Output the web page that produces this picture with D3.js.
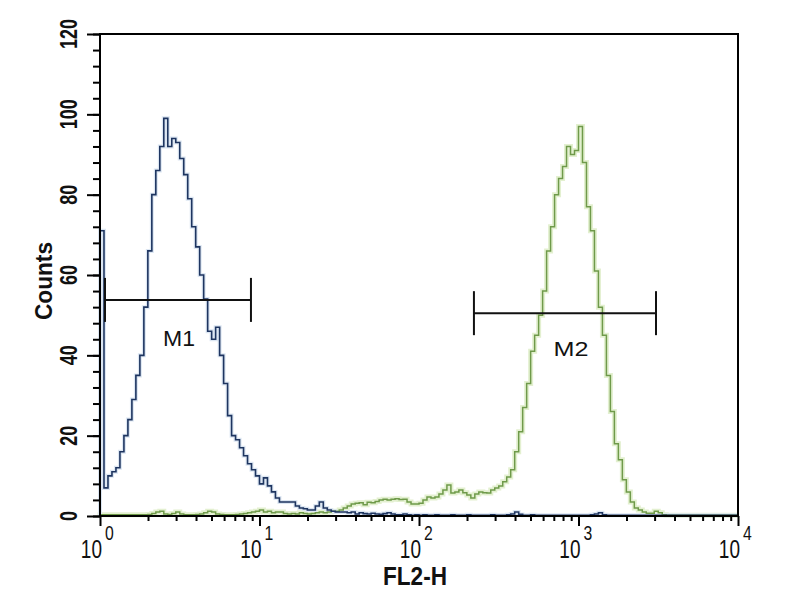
<!DOCTYPE html>
<html>
<head>
<meta charset="utf-8">
<script src="https://cdn.jsdelivr.net/npm/d3@7"></script>
<style>
  html, body { margin: 0; padding: 0; background: #fff; }
  svg { display: block; }
  text { font-family: "Liberation Sans", Arial, sans-serif; fill: #111; }
</style>
</head>
<body>
<svg id="chart" width="800" height="600"></svg>
<script>
// ---- Data ----
// Histogram channels: 160 channels spanning 4 decades (10^0 .. 10^4)
const channelCount = 160;
const decades = 4;

// Counts per channel, isotype control (blue)
const blueCounts = [
  71, 7, 10, 11, 12, 16, 20, 24, 29, 35,
  40, 52, 66, 80, 86, 92, 99, 92, 94, 93,
  89, 85, 79, 72, 67, 60, 54, 46, 44, 47,
  40, 33, 25, 20, 19, 17, 15, 13, 11.5, 10,
  8, 9.5, 7.5, 6, 4.5, 3.5, 3.5, 3.5, 3.5, 2.5,
  2, 1.8, 1.5, 1.5, 2.5, 3.5, 2, 1.5, 1.2, 1,
  1, 1, 0.8, 1, 0.5, 0.8, 0.6, 0.5, 0.7, 0.5,
  0.4, 0.6, 0.8, 0.5, 0.3, 0.3, 0.5, 0.3, 0.2, 0.3,
  0.2, 0.3, 0.2, 0.2, 0.3, 0.2, 0.2, 0.2, 0.3, 0.2,
  0.2, 0.2, 0.3, 0.2, 0.2, 0.2, 0.2, 0.2, 0.3, 0.2,
  0.2, 0.2, 0.3, 0.5, 1, 0.4, 0.2, 0.2, 0.3, 0.2,
  0.2, 0.2, 0.2, 0.2, 0.2, 0.2, 0.2, 0.2, 0.2, 0.2,
  0.2, 0.2, 0.2, 0.3, 0.5, 0.8, 0.3, 0.2, 0.2, 0.2,
  0.2, 0.2, 0.2, 0.2, 0.2, 0.2, 0.2, 0.2, 0.2, 0.2,
  0.2, 0.2, 0.2, 0.2, 0.2, 0.2, 0.2, 0.2, 0.2, 0.2,
  0.2, 0.2, 0.2, 0.2, 0.2, 0.2, 0.2, 0.2, 0.2, 0.2
];

// Counts per channel, antibody-stained sample (green)
const greenCounts = [
  0.3, 0.3, 0.3, 0.3, 0.3, 0.3, 0.3, 0.3, 0.3, 0.3,
  0.3, 0.3, 0.4, 0.6, 1, 1.2, 0.5, 0.4, 0.6, 1,
  0.5, 0.3, 0.3, 0.3, 0.4, 0.5, 0.8, 1.2, 1, 0.5,
  0.4, 0.3, 0.3, 0.3, 0.4, 0.5, 0.6, 0.8, 1, 1.2,
  1.5, 1, 1.2, 0.8, 1, 1, 0.6, 0.5, 0.6, 0.5,
  0.8, 0.6, 0.5, 0.6, 0.8, 1, 0.8, 1, 1.2, 1.2,
  1.5, 2, 2.5, 3, 3.2, 3.3, 2.8, 3.4, 3.3, 3.6,
  4, 4.2, 4, 4.2, 4.3, 4.1, 4.2, 3.5, 3, 3,
  3.2, 4, 4.7, 4.5, 4.7, 5.5, 6.5, 7.7, 5.7, 6,
  6.5, 5.8, 5.2, 4.5, 5.5, 6, 5.8, 5.7, 6.5, 7,
  7.5, 8.5, 9.7, 11.5, 16, 21, 27, 33, 41, 45,
  50, 56, 66, 72, 80, 84, 87, 92, 90, 91,
  97, 88, 77, 71, 61, 52, 45, 35, 26, 18,
  14, 9, 6, 3.5, 2, 1.5, 1, 0.7, 0.7, 1.2,
  0.8, 0.3, 0.2, 0.2, 0.2, 0.2, 0.2, 0.2, 0.2, 0.2,
  0.2, 0.2, 0.2, 0.2, 0.2, 0.2, 0.2, 0.2, 0.2, 0.2
];

// Markers (gates): [start, end] in FL2-H units and the level (counts) they sit at
const markerNames = ["M1", "M2"];
const markerStart = [1.075, 221];
const markerEnd = [8.84, 3062];
const markerLevel = [53.8, 50.5];

// Axis ticks
const yTicks = [0, 20, 40, 60, 80, 100, 120];
const yMinorStep = 4;
const xDecadeTicks = [1, 10, 100, 1000, 10000];
const xDecadeExp = ["0", "1", "2", "3", "4"];
const xTitle = "FL2-H";
const yTitle = "Counts";

// ---- Layout ----
const svg = d3.select("#chart");
const pLeft = 100, pRight = 738, pTop = 34, pBottom = 516;

const x = d3.scaleLog().domain([1, 10000]).range([pLeft, pRight]);
const y = d3.scaleLinear().domain([0, 120]).range([pBottom, pTop]);

// channel lower edges in FL2-H units
const chanVal = i => Math.pow(10, i * decades / channelCount);

function seriesPoints(counts) {
  const pts = [{ v: chanVal(0), c: 0 }];
  counts.forEach((c, i) => pts.push({ v: chanVal(i), c: c }));
  pts.push({ v: chanVal(counts.length), c: counts[counts.length - 1] });
  return pts;
}

const line = d3.line()
  .x(d => x(d.v))
  .y(d => y(d.c))
  .curve(d3.curveStepAfter);

const plot = svg.append("g");

plot.append("path")
  .attr("d", line(seriesPoints(greenCounts)))
  .attr("fill", "none")
  .attr("stroke", "#e3f0d0")
  .attr("stroke-width", 5);
plot.append("path")
  .attr("d", line(seriesPoints(blueCounts)))
  .attr("fill", "none")
  .attr("stroke", "#dce6f2")
  .attr("stroke-width", 4);
plot.append("path")
  .attr("d", line(seriesPoints(greenCounts)))
  .attr("fill", "none")
  .attr("stroke", "#6f9a4a")
  .attr("stroke-width", 1.5);
plot.append("path")
  .attr("d", line(seriesPoints(blueCounts)))
  .attr("fill", "none")
  .attr("stroke", "#1e3560")
  .attr("stroke-width", 1.6);

// ---- Frame ----
svg.append("rect")
  .attr("x", pLeft).attr("y", pTop)
  .attr("width", pRight - pLeft).attr("height", pBottom - pTop)
  .attr("fill", "none")
  .attr("stroke", "#000")
  .attr("stroke-width", 2);

// ---- Y axis ----
const yMinor = d3.range(0, 121, yMinorStep);
const yAxisMinor = d3.axisLeft(y).tickValues(yMinor).tickSize(7).tickFormat("");
const yAxisMajor = d3.axisLeft(y).tickValues(yTicks).tickSize(13).tickFormat("");
[yAxisMinor, yAxisMajor].forEach(ax => {
  const g = svg.append("g").attr("transform", `translate(${pLeft},0)`).call(ax);
  g.select(".domain").remove();
  g.selectAll("line").attr("stroke", "#000").attr("stroke-width", 2);
});

svg.append("g").selectAll("text")
  .data(yTicks)
  .join("text")
  .attr("transform", d => `translate(77,${y(d)}) rotate(-90)`)
  .attr("text-anchor", "middle")
  .attr("font-size", 24)
  .attr("font-weight", "bold")
  .attr("textLength", d => String(d).length * 10)
  .attr("lengthAdjust", "spacingAndGlyphs")
  .text(d => d);

// ---- X axis ----
const xMinor = [];
for (let dec = 1; dec < 10000; dec *= 10) {
  for (let k = 2; k <= 9; k++) xMinor.push(dec * k);
}
const xAxisMinor = d3.axisBottom(x).tickValues(xMinor).tickSize(5).tickFormat("");
const xAxisMajor = d3.axisBottom(x).tickValues(xDecadeTicks).tickSize(10).tickFormat("");
[xAxisMinor, xAxisMajor].forEach(ax => {
  const g = svg.append("g").attr("transform", `translate(0,${pBottom})`).call(ax);
  g.select(".domain").remove();
  g.selectAll("line").attr("stroke", "#000").attr("stroke-width", 2);
});

// decade labels: condensed "10" plus a raised exponent (horizontal squeeze via scale)
const xl = svg.append("g");
xDecadeTicks.forEach((d, i) => {
  xl.append("g")
    .attr("transform", `translate(${x(d) + 2},558) scale(0.76,1)`)
    .append("text")
    .attr("text-anchor", "end")
    .attr("font-size", 25)
    .text("10");
  xl.append("g")
    .attr("transform", `translate(${x(d) + 5},540) scale(0.75,1)`)
    .append("text")
    .attr("font-size", 21)
    .text(xDecadeExp[i]);
});

// ---- Titles ----
svg.append("text")
  .attr("x", 415).attr("y", 585)
  .attr("text-anchor", "middle")
  .attr("font-size", 26)
  .attr("font-weight", "bold")
  .attr("textLength", 64)
  .attr("lengthAdjust", "spacingAndGlyphs")
  .text(xTitle);

svg.append("text")
  .attr("transform", `translate(52,281) rotate(-90)`)
  .attr("text-anchor", "middle")
  .attr("font-size", 24)
  .attr("font-weight", "bold")
  .attr("textLength", 78)
  .attr("lengthAdjust", "spacingAndGlyphs")
  .text(yTitle);

// ---- Markers ----
const capHalf = 22;
const mg = svg.append("g");
markerNames.forEach((name, i) => {
  const x0 = x(markerStart[i]), x1 = x(markerEnd[i]), yy = y(markerLevel[i]);
  mg.append("line").attr("x1", x0).attr("x2", x1).attr("y1", yy).attr("y2", yy)
    .attr("stroke", "#111").attr("stroke-width", 2);
  [x0, x1].forEach(xx => {
    mg.append("line").attr("x1", xx).attr("x2", xx)
      .attr("y1", yy - capHalf).attr("y2", yy + capHalf)
      .attr("stroke", "#111").attr("stroke-width", 2);
  });
});
mg.append("text").attr("x", 179).attr("y", 346)
  .attr("text-anchor", "middle").attr("font-size", 22)
  .attr("textLength", 32).attr("lengthAdjust", "spacingAndGlyphs")
  .text(markerNames[0]);
mg.append("text").attr("x", 571).attr("y", 356)
  .attr("text-anchor", "middle").attr("font-size", 21)
  .attr("textLength", 35).attr("lengthAdjust", "spacingAndGlyphs")
  .text(markerNames[1]);
</script>
</body>
</html>
